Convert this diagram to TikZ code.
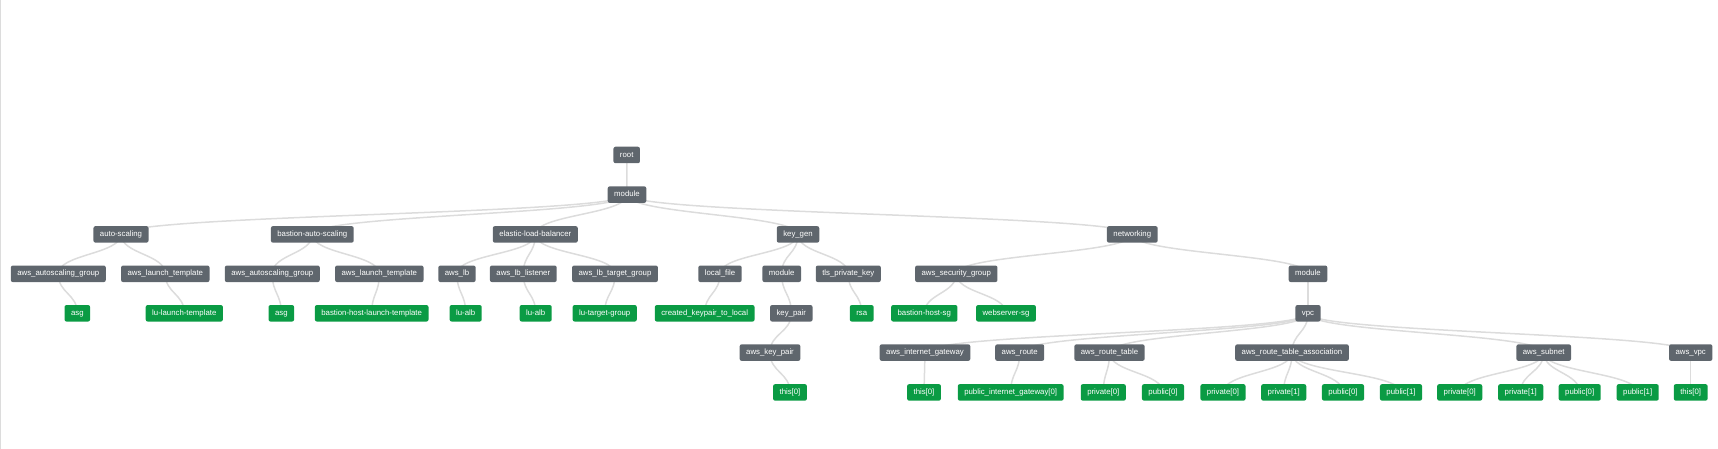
\documentclass[tikz,border=0pt]{standalone}
\usepackage{fontspec}
\setmainfont{Liberation Sans}
\usepackage{tikz}
\usetikzlibrary{calc,backgrounds}
\definecolor{resgray}{HTML}{5F666D}
\definecolor{resgreen}{HTML}{0A9B44}
\definecolor{linkgray}{HTML}{DCDCDC}
\tikzset{
    res/.style={draw=none, fill=resgray, text=white, rounded corners=2pt, inner xsep=6.5pt, inner ysep=0pt, minimum height=16.5pt, text height=5.9pt, text depth=1.7pt, font=\fontsize{7.8}{9}\selectfont},
    leaf/.style={res, fill=resgreen},
    link/.style={draw=linkgray, line width=1.5pt},
    vlink/.style={to path={.. controls ($(\tikztostart)!0.5!(\tikztostart|-\tikztotarget)$) and ($(\tikztotarget)!0.5!(\tikztotarget|-\tikztostart)$) .. (\tikztotarget)}}}

\begin{document}
\begin{tikzpicture}[x=1pt,y=-1pt]
\useasboundingbox (0,0) rectangle (1718,449);
\draw [linkgray, line width=1pt](0.5,0)--(0.5,449);

%top
\node[res] (root) at (626.7,155) {root};
\node[res] (mod) at (627,194.6) {module};

%auto-scaling
\node[res] (as) at (121,234.4) {auto-scaling};
\node[res] (asgrp) at (58.3,273.8) {aws\_autoscaling\_group};
\node[res] (aslt) at (165.3,273.8) {aws\_launch\_template};
\node[leaf] (asasg) at (77.3,313.3) {asg};
\node[leaf] (aslut) at (184.3,313.3) {lu-launch-template};

%bastion-auto-scaling
\node[res] (bas) at (312.3,234.4) {bastion-auto-scaling};
\node[res] (basgrp) at (272.3,273.8) {aws\_autoscaling\_group};
\node[res] (baslt) at (379.3,273.8) {aws\_launch\_template};
\node[leaf] (basasg) at (281.3,313.3) {asg};
\node[leaf] (bashlt) at (371.7,313.3) {bastion-host-launch-template};

%elastic-load-balancer
\node[res] (elb) at (535.3,234.4) {elastic-load-balancer};
\node[res] (lb) at (457,273.8) {aws\_lb};
\node[res] (lbl) at (523.3,273.8) {aws\_lb\_listener};
\node[res] (lbtg) at (615,273.8) {aws\_lb\_target\_group};
\node[leaf] (lbalb) at (465.7,313.3) {lu-alb};
\node[leaf] (lblalb) at (535.7,313.3) {lu-alb};
\node[leaf] (lbtgg) at (604.7,313.3) {lu-target-group};

%key_gen
\node[res] (kg) at (798,234.4) {key\_gen};
\node[res] (lf) at (720,273.8) {local\_file};
\node[res] (kgmod) at (781.7,273.8) {module};
\node[res] (tls) at (848.3,273.8) {tls\_private\_key};
\node[leaf] (ckl) at (704.7,313.3) {created\_keypair\_to\_local};
\node[res] (kp) at (791.3,313.3) {key\_pair};
\node[leaf] (rsa) at (861.7,313.3) {rsa};
\node[res] (akp) at (770,352.6) {aws\_key\_pair};
\node[leaf] (akpthis) at (790,392.4) {this[0]};

%networking
\node[res] (net) at (1132.3,234.4) {networking};
\node[res] (sg) at (956.3,273.8) {aws\_security\_group};
\node[res] (netmod) at (1308,273.8) {module};
\node[leaf] (bhsg) at (924.3,313.3) {bastion-host-sg};
\node[leaf] (wssg) at (1006,313.3) {webserver-sg};
\node[res] (vpc) at (1308,313.3) {vpc};
\node[res] (igw) at (925,352.6) {aws\_internet\_gateway};
\node[res] (rt) at (1019.7,352.6) {aws\_route};
\node[res] (rtt) at (1109.5,352.6) {aws\_route\_table};
\node[res] (rta) at (1292,352.6) {aws\_route\_table\_association};
\node[res] (sub) at (1543.7,352.6) {aws\_subnet};
\node[res] (avpc) at (1690.7,352.6) {aws\_vpc};
\node[leaf] (igwthis) at (924,392.4) {this[0]};
\node[leaf] (rtpig) at (1010.7,392.4) {public\_internet\_gateway[0]};
\node[leaf] (rttpr0) at (1103.3,392.4) {private[0]};
\node[leaf] (rttpu0) at (1163,392.4) {public[0]};
\node[leaf] (rtapr0) at (1223,392.4) {private[0]};
\node[leaf] (rtapr1) at (1283.7,392.4) {private[1]};
\node[leaf] (rtapu0) at (1343,392.4) {public[0]};
\node[leaf] (rtapu1) at (1401,392.4) {public[1]};
\node[leaf] (subpr0) at (1459.7,392.4) {private[0]};
\node[leaf] (subpr1) at (1520.7,392.4) {private[1]};
\node[leaf] (subpu0) at (1579.7,392.4) {public[0]};
\node[leaf] (subpu1) at (1637.7,392.4) {public[1]};
\node[leaf] (avpcthis) at (1690.7,392.4) {this[0]};

%links
\begin{scope}[on background layer, every path/.style={link}]
\draw (root.center) to[vlink] (mod.center);
\foreach \b in {as,bas,elb,kg,net} \draw (mod.center) to[vlink] (\b.center);
\foreach \a/\b in {as/asgrp,as/aslt,asgrp/asasg,aslt/aslut,
    bas/basgrp,bas/baslt,basgrp/basasg,baslt/bashlt,
    elb/lb,elb/lbl,elb/lbtg,lb/lbalb,lbl/lblalb,lbtg/lbtgg,
    kg/lf,kg/kgmod,kg/tls,lf/ckl,kgmod/kp,kp/akp,akp/akpthis,tls/rsa,
    net/sg,net/netmod,sg/bhsg,sg/wssg,netmod/vpc,
    vpc/igw,vpc/rt,vpc/rtt,vpc/rta,vpc/sub,vpc/avpc,
    igw/igwthis,rt/rtpig,rtt/rttpr0,rtt/rttpu0,
    rta/rtapr0,rta/rtapr1,rta/rtapu0,rta/rtapu1,
    sub/subpr0,sub/subpr1,sub/subpu0,sub/subpu1,avpc/avpcthis}
    \draw (\a.center) to[vlink] (\b.center);
\end{scope}
\end{tikzpicture}
\end{document}
